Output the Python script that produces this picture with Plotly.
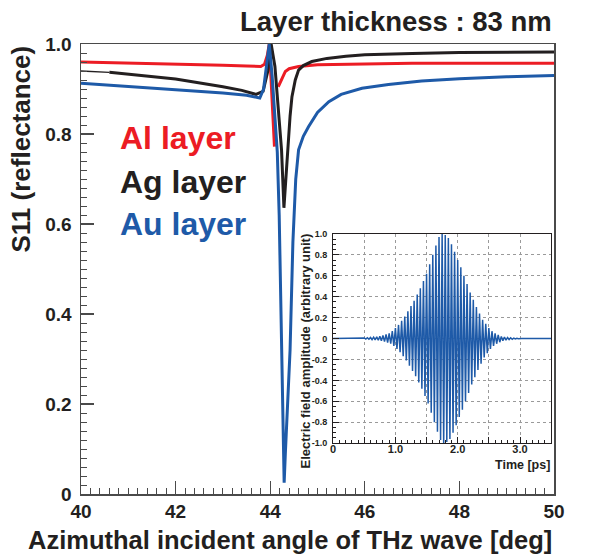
import plotly.graph_objects as go

# ---------------- data ----------------
al_x = [40, 41, 42, 43, 43.5, 43.8, 43.88, 43.94, 43.98, 44.03, 44.09, None,
        44.17, 44.21, 44.27, 44.32, 44.4, 44.6, 45, 46, 47, 48, 50]
al_y = [0.960, 0.958, 0.956, 0.953, 0.951, 0.950, 0.955, 0.975, 1.0, 0.89, 0.772, None,
        0.905, 0.915, 0.930, 0.939, 0.945, 0.950, 0.954, 0.956, 0.957, 0.957, 0.957]

ag_x = [40, 40.6, 41, 42, 43, 43.4, 43.7, 43.85, 43.95, 44.02, 44.1, 44.18, 44.24,
        44.29, 44.33, 44.37, 44.42, 44.46, 44.53, 44.6, 44.7, 44.88, 45.2, 45.6,
        46, 47, 48, 50]
ag_y = [0.940, 0.937, 0.933, 0.922, 0.905, 0.897, 0.888, 0.895, 0.94, 1.0, 0.95, 0.85, 0.764,
        0.636, 0.70, 0.765, 0.84, 0.883, 0.92, 0.942, 0.952, 0.961, 0.968, 0.973,
        0.976, 0.979, 0.981, 0.982]
ag_thin_end = 2  # first points drawn with a thin line

au_x = [40, 41, 42, 43, 43.5, 43.7, 43.78, 43.86, 43.92, 43.98, 44.04, 44.1, 44.15,
        44.19, 44.23, 44.27, 44.295, 44.32, 44.36, 44.42, 44.48, 44.54, 44.6, 44.7,
        44.81, 45.0, 45.24, 45.5, 45.94, 46.5, 47.2, 48, 49, 50]
au_y = [0.913, 0.906, 0.898, 0.891, 0.886, 0.881, 0.880, 0.90, 0.95, 1.0, 0.93, 0.84, 0.76,
        0.62, 0.40, 0.12, 0.025, 0.09, 0.18, 0.32, 0.56, 0.70, 0.765, 0.795,
        0.816, 0.848, 0.872, 0.888, 0.9015, 0.910, 0.918, 0.923, 0.927, 0.930]

# inset: THz pulse, one crest per cycle (time [ps], crest amplitude)
pulse_t = [0.50, 0.55, 0.60, 0.65, 0.70, 0.75, 0.80, 0.85, 0.90, 0.95, 1.00, 1.05, 1.10,
           1.15, 1.20, 1.25, 1.30, 1.35, 1.40, 1.45, 1.50, 1.55, 1.60, 1.65, 1.70, 1.75,
           1.80, 1.85, 1.90, 1.95, 2.00, 2.05, 2.10, 2.15, 2.20, 2.25, 2.30, 2.35, 2.40,
           2.45, 2.50, 2.55, 2.60, 2.65, 2.70, 2.75, 2.80, 2.85, 2.90, 2.95, 3.00]
pulse_amp = [0.005, 0.007, 0.01, 0.013, 0.017, 0.022, 0.03, 0.04, 0.05, 0.07, 0.10, 0.13, 0.17,
             0.21, 0.26, 0.31, 0.36, 0.42, 0.48, 0.55, 0.62, 0.71, 0.80, 0.89, 0.97, 1.00,
             0.99, 0.96, 0.90, 0.83, 0.75, 0.68, 0.60, 0.52, 0.44, 0.37, 0.30, 0.24, 0.18,
             0.14, 0.10, 0.07, 0.05, 0.035, 0.02, 0.015, 0.01, 0.007, 0.004, 0.002, 0.0]
inset_t_range = [0, 3.5]

x_ticks = [40, 42, 44, 46, 48, 50]
y_ticks = [0, 0.2, 0.4, 0.6, 0.8, 1.0]
y_ticktext = ["0", "0.2", "0.4", "0.6", "0.8", "1.0"]
ins_x_ticks = [0, 0.5, 1.0, 1.5, 2.0, 2.5, 3.0, 3.5]
ins_x_text = ["0", "", "1.0", "", "2.0", "", "3.0", ""]
ins_y_ticks = [-1.0, -0.8, -0.6, -0.4, -0.2, 0, 0.2, 0.4, 0.6, 0.8, 1.0]
ins_y_text = ["-1.0", "-0.8", "-0.6", "-0.4", "-0.2", "0", "0.2", "0.4", "0.6", "0.8", "1.0"]

RED = "#ec1c24"
BLACK = "#231f20"
BLUE = "#1e5aa8"
FRAME = "#4a4a4a"
FONT = "Liberation Sans"

# ---------------- build pulse polyline ----------------
half = (pulse_t[1] - pulse_t[0]) / 2
px = [inset_t_range[0]]
py = [0]
for t, a in zip(pulse_t, pulse_amp):
    px += [t, t + half]
    py += [a, -a]
px += [inset_t_range[1]]
py += [0]

fig = go.Figure()
fig.add_trace(go.Scatter(x=al_x, y=al_y, mode="lines", line=dict(color=RED, width=3),
                         connectgaps=False, showlegend=False))
fig.add_trace(go.Scatter(x=ag_x[:ag_thin_end], y=ag_y[:ag_thin_end], mode="lines",
                         line=dict(color=BLACK, width=1.3), showlegend=False))
fig.add_trace(go.Scatter(x=ag_x[ag_thin_end - 1:], y=ag_y[ag_thin_end - 1:], mode="lines",
                         line=dict(color=BLACK, width=3), showlegend=False))
fig.add_trace(go.Scatter(x=au_x, y=au_y, mode="lines", line=dict(color=BLUE, width=3),
                         showlegend=False))
fig.add_trace(go.Scatter(x=px, y=py, mode="lines", line=dict(color=BLUE, width=1.5),
                         xaxis="x2", yaxis="y2", showlegend=False))

bold = dict(family=FONT, weight="bold", color=BLACK)

fig.update_layout(
    width=601, height=554,
    margin=dict(l=81, r=47, t=44, b=60, autoexpand=False),
    paper_bgcolor="white", plot_bgcolor="white",
    font=dict(family=FONT),
    hovermode=False,
    xaxis=dict(domain=[0, 1], range=[40, 50], anchor="y", automargin=False,
               tickvals=x_ticks, ticks="inside", ticklen=13, tickwidth=1.3, tickcolor=FRAME,
               minor=dict(dtick=0.2, ticks="inside", ticklen=6, tickwidth=1, tickcolor=FRAME),
               showline=True, linecolor=FRAME, linewidth=1.5, mirror=True,
               showgrid=False, zeroline=False,
               tickfont=dict(size=19, **bold), ticklabelstandoff=0),
    yaxis=dict(domain=[0, 1], range=[0, 1], anchor="x", automargin=False,
               tickvals=y_ticks, ticktext=y_ticktext, ticks="inside", ticklen=13,
               tickwidth=1.3, tickcolor=FRAME,
               minor=dict(dtick=0.02, ticks="inside", ticklen=6, tickwidth=1, tickcolor=FRAME),
               showline=True, linecolor=FRAME, linewidth=1.5, mirror=True,
               showgrid=False, zeroline=False,
               tickfont=dict(size=19, **bold), ticklabelstandoff=4),
    xaxis3=dict(overlaying="x", anchor="y", range=[40, 50], tickvals=[41, 43, 45, 47, 49],
                ticks="inside", ticklen=9, tickwidth=1.2, tickcolor=FRAME, automargin=False,
                showticklabels=False, showline=False, showgrid=False, zeroline=False),
    yaxis3=dict(overlaying="y", anchor="x", range=[0, 1], tickvals=[0.1, 0.3, 0.5, 0.7, 0.9],
                ticks="inside", ticklen=9, tickwidth=1.2, tickcolor=FRAME, automargin=False,
                showticklabels=False, showline=False, showgrid=False, zeroline=False),
    xaxis2=dict(domain=[0.533, 0.994], range=inset_t_range, anchor="y2", automargin=False,
                tickvals=ins_x_ticks, ticktext=ins_x_text, ticks="inside", ticklen=6,
                tickcolor=BLACK, minor=dict(dtick=0.1, ticks="inside", ticklen=3, tickcolor=BLACK),
                showline=True, linecolor=BLACK, linewidth=1, mirror=True,
                showgrid=True, gridcolor="#9a9a9a", griddash="dot", gridwidth=1,
                zeroline=False, tickfont=dict(size=11, **bold), ticklabelstandoff=-4),
    yaxis2=dict(domain=[0.113, 0.578], range=[-1, 1], anchor="x2", automargin=False,
                tickvals=ins_y_ticks, ticktext=ins_y_text, ticks="inside", ticklen=6,
                tickcolor=BLACK, minor=dict(dtick=0.05, ticks="inside", ticklen=3, tickcolor=BLACK),
                showline=True, linecolor=BLACK, linewidth=1, mirror=True,
                showgrid=True, gridcolor="#9a9a9a", griddash="dot", gridwidth=1,
                zeroline=False, tickfont=dict(size=9, **bold), ticklabelstandoff=3),
)


def px2x(p):
    return (p - 81) / 473


def py2y(p):
    return (494 - p) / 450


annos = [
    dict(text="Layer thickness : 83 nm", x=1.0, y=py2y(22), xanchor="right", yanchor="middle",
         font=dict(size=27.5, **bold)),
    dict(text="Azimuthal incident angle of THz wave [deg]", x=1.0, y=py2y(540),
         xanchor="right", yanchor="middle", font=dict(size=25.5, **bold)),
    dict(text="S11 (reflectance)", x=px2x(20), y=1.0, xanchor="center", yanchor="top",
         textangle=-90, font=dict(size=26, **bold)),
    dict(text="Al layer", x=px2x(118), y=py2y(138), xanchor="left", yanchor="middle",
         font=dict(size=32, family=FONT, weight="bold", color=RED)),
    dict(text="Ag layer", x=px2x(118), y=py2y(182), xanchor="left", yanchor="middle",
         font=dict(size=32, family=FONT, weight="bold", color=BLACK)),
    dict(text="Au layer", x=px2x(118), y=py2y(224), xanchor="left", yanchor="middle",
         font=dict(size=32, family=FONT, weight="bold", color=BLUE)),
    dict(text="Time [ps]", x=px2x(552), y=py2y(465), xanchor="right", yanchor="middle",
         font=dict(size=12.5, **bold)),
    dict(text="Electric field amplitude (arbitrary unit)", x=px2x(305), y=py2y(232),
         xanchor="center", yanchor="top", textangle=-90, font=dict(size=13, **bold)),
]
for a in annos:
    a.update(xref="paper", yref="paper", showarrow=False)
fig.update_layout(annotations=annos)

fig.write_html("out.html", config={"displayModeBar": False, "staticPlot": True},
               post_script="document.body.style.margin='0px';document.body.style.overflow='hidden';")
